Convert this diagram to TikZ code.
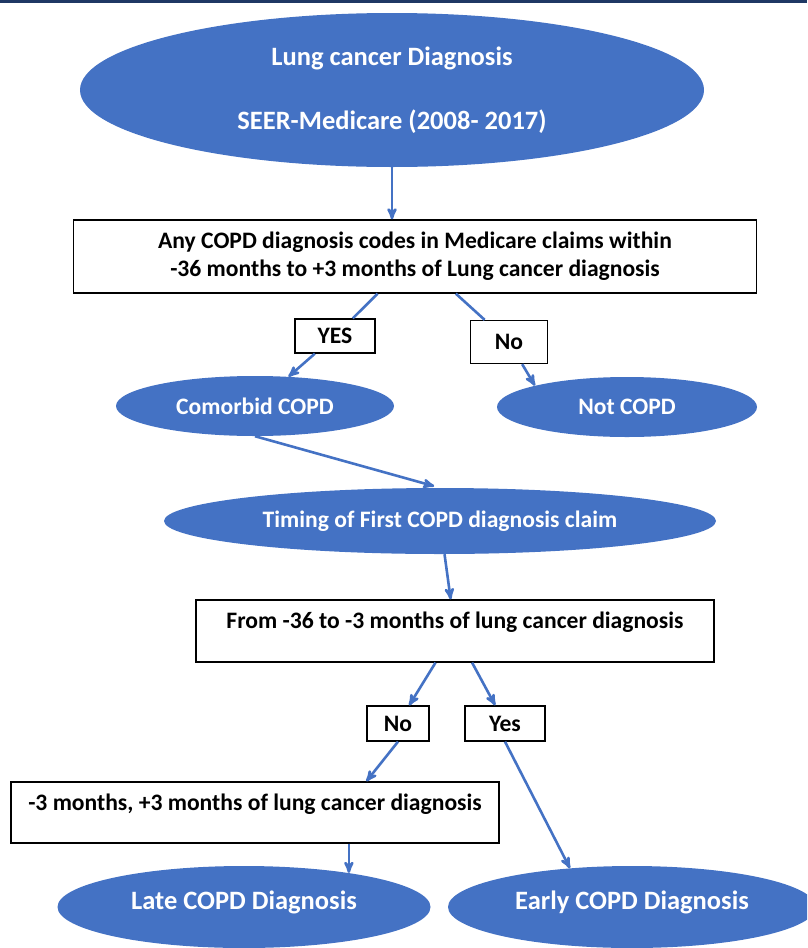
\documentclass[tikz,border=0pt]{standalone}
\usepackage{fontspec}
\setmainfont{Carlito}
\usetikzlibrary{arrows,positioning,shapes.geometric}
\definecolor{officeblue}{HTML}{4472C4}
\definecolor{topbar}{HTML}{1F3864}

\begin{document}
\begin{tikzpicture}[x=1pt,y=-1pt,>=stealth',
    every node/.style={font=\bfseries\fontsize{23.6}{28}\selectfont},
    bigtext/.style={font=\bfseries\fontsize{26.5}{28}\selectfont},
    blob/.style={ellipse,fill=officeblue,text=white,inner sep=0pt},
    outbox/.style={rectangle,draw=black,line width=1.3pt,fill=white,inner sep=0pt},
    tagbox/.style={outbox},
    flow/.style={draw=officeblue,line width=2.6pt,->}]
    \useasboundingbox (0,0) rectangle (807,948);
    \clip (0,0) rectangle (807,948);
    \fill[topbar] (0,0) rectangle (807,3);

    % ellipses
    \node[blob,bigtext,minimum width=624pt,minimum height=154pt,align=center] (lc) at (392,90)
        {Lung cancer Diagnosis\\[36pt]SEER-Medicare (2008- 2017)};
    \node[blob,minimum width=278pt,minimum height=60pt] (comorbid) at (255,406) {Comorbid COPD};
    \node[blob,minimum width=260pt,minimum height=60pt] (notcopd) at (627,407) {Not COPD};
    \node[blob,minimum width=552pt,minimum height=66pt] (timing) at (440,521) {Timing of First COPD diagnosis claim};
    \node[blob,bigtext,minimum width=373pt,minimum height=82pt,text depth=14pt] (late) at (244,907) {Late COPD Diagnosis};
    \node[blob,bigtext,minimum width=368pt,minimum height=82pt,text depth=13pt] (early) at (632,907) {Early COPD Diagnosis};

    % boxes
    \node[outbox,minimum width=683pt,minimum height=73pt,align=center] (box1) at (415,256.5)
        {Any COPD diagnosis codes in Medicare claims within\\-36 months to +3 months of Lung cancer diagnosis};
    \node[outbox,minimum width=518pt,minimum height=62pt,text depth=21pt] (box2) at (455,631)
        {From -36 to -3 months of lung cancer diagnosis};
    \node[outbox,minimum width=488pt,minimum height=61pt,text depth=21pt] (box3) at (255,812.5)
        {-3 months, +3 months of lung cancer diagnosis};

    % yes / no tags
    \node[tagbox,minimum width=80pt,minimum height=34pt] (yes) at (335,336) {YES};
    \node[tagbox,minimum width=77pt,minimum height=43pt] (no) at (509,342) {No};
    \node[tagbox,minimum width=62pt,minimum height=35pt] (no2) at (398,723.5) {No};
    \node[tagbox,minimum width=80pt,minimum height=35pt] (yes2) at (505,723.5) {Yes};

    \path[every edge/.append style={flow}]
        (lc.south) edge (box1.north -| lc.south)
        (box1) edge[-] (yes)
        (yes) edge (comorbid)
        (box1) edge[-] (no)
        (no) edge (notcopd.north west)
        (comorbid.south) edge[shorten >=6pt] (timing.north)
        (timing) edge (box2)
        (box2) edge (no2)
        (no2.south) edge (box3.north -| no2.south west)
        (box2) edge (yes2)
        (yes2.south) edge (early.148)
        (box3.south -| late.18) edge (late.18)
        ;
\end{tikzpicture}
\end{document}
